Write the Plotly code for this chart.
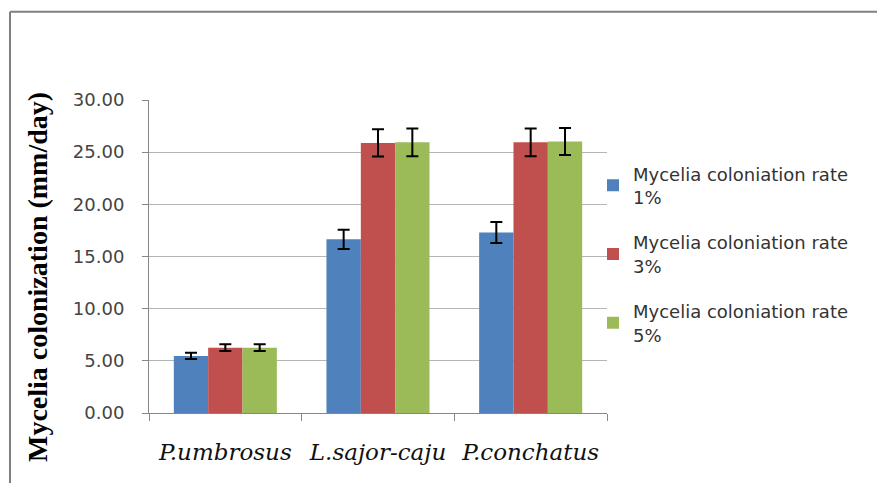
import plotly.graph_objects as go

categories = ["P.umbrosus", "L.sajor-caju", "P.conchatus"]
series_names = ["Mycelia coloniation rate<br>1%", "Mycelia coloniation rate<br>3%", "Mycelia coloniation rate<br>5%"]
rate_1 = [5.47, 16.65, 17.30]
rate_3 = [6.26, 25.89, 25.95]
rate_5 = [6.26, 25.95, 26.02]
err_1 = [0.30, 0.92, 1.00]
err_3 = [0.32, 1.30, 1.33]
err_5 = [0.32, 1.33, 1.30]
colors = ["#4F81BD", "#C0504D", "#9BBB59"]
y_ticks = [0, 5, 10, 15, 20, 25, 30]
y_title = "Mycelia colonization (mm/day)"

# page has an 8px body margin; work in reference-page pixels and convert
OFF = 8
PAGE_W, PAGE_H = 885, 491
W, H = PAGE_W - 2 * OFF, PAGE_H - 2 * OFF
PL, PR, PT, PB = 149, 607, 99.5, 413.3   # plot area in page pixels
L, T = PL - OFF, PT - OFF
R = W - (PR - OFF)
B = H - (PB - OFF)
pw = PR - PL
ph = PB - PT

fig = go.Figure()
for i, (name, vals, errs) in enumerate(zip(series_names, [rate_1, rate_3, rate_5], [err_1, err_3, err_5])):
    fig.add_trace(go.Bar(
        x=categories, y=vals, name=name,
        marker=dict(color=colors[i], line=dict(width=0)),
        error_y=dict(type="data", array=errs, visible=True, color="black", thickness=2, width=6),
        legendgroup=str(i),
    ))

def px_x(px):
    return (px - PL) / pw

def px_y(py):
    return (PB - py) / ph

frame = "#808080"
fig.add_shape(type="line", xref="paper", yref="paper", x0=px_x(10), x1=px_x(10), y0=px_y(500), y1=px_y(11),
              line=dict(color=frame, width=2))
fig.add_shape(type="line", xref="paper", yref="paper", x0=px_x(10), x1=px_x(900), y0=px_y(11), y1=px_y(11),
              line=dict(color=frame, width=2))

fig.add_annotation(
    text=y_title, textangle=-90, showarrow=False,
    xref="paper", yref="paper", x=px_x(37), y=px_y(277), xanchor="center", yanchor="middle",
    font=dict(family="Liberation Serif", size=28, color="#000000", weight="bold"),
)

fig.update_layout(
    width=W, height=H,
    margin=dict(l=L, r=R, t=T, b=B),
    paper_bgcolor="white", plot_bgcolor="white",
    barmode="group", bargap=0.325, bargroupgap=0,
    showlegend=True,
    legend=dict(
        x=px_x(593), y=px_y(155), xanchor="left", yanchor="top",
        font=dict(family="DejaVu Sans", size=18, color="#333333"),
        tracegroupgap=19, itemwidth=30,
        bgcolor="rgba(0,0,0,0)",
    ),
    xaxis=dict(
        type="category", tickson="boundaries",
        showline=True, linecolor="#868686", linewidth=1,
        ticks="outside", ticklen=7, tickcolor="#868686",
        tickfont=dict(family="DejaVu Serif", size=23, color="#111111", style="italic"),
        ticklabelstandoff=18,
        showgrid=False,
    ),
    yaxis=dict(
        range=[0, 30], tickvals=y_ticks, tickformat=".2f",
        showline=True, linecolor="#868686", linewidth=1,
        ticks="outside", ticklen=6, tickcolor="#868686",
        showgrid=True, gridcolor="#b4b4b4", gridwidth=1,
        zeroline=False,
        tickfont=dict(family="DejaVu Sans", size=18, color="#444444"),
        ticklabelstandoff=14,
    ),
)

fig.write_html("out.html")
